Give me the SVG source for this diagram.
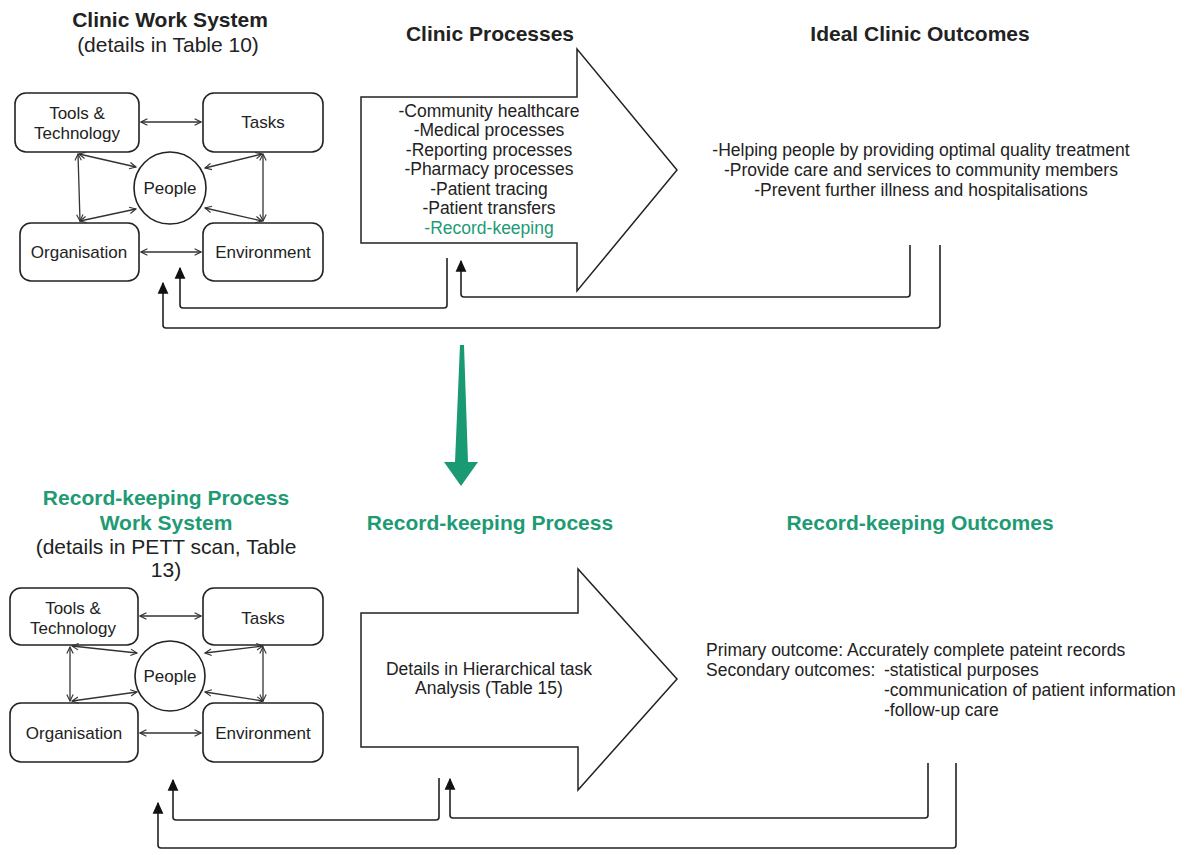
<svg xmlns="http://www.w3.org/2000/svg" width="1185" height="855" viewBox="0 0 1185 855">
  <style>
    text { font-family: "Liberation Sans", Arial, sans-serif; fill: #222; }
    .title { font-size: 21px; font-weight: bold; text-anchor: middle; }
    .green { fill: #1e9a74; }
    .sub { font-size: 21px; text-anchor: middle; }
    .lbl { font-size: 17px; text-anchor: middle; }
    .item { font-size: 17.5px; text-anchor: middle; }
    .left { font-size: 17.5px; text-anchor: start; }
    .box { fill: #fff; stroke: #222; stroke-width: 1.6; }
    .big { fill: #fff; stroke: #222; stroke-width: 1.5; }
    .link { fill: none; stroke: #333; stroke-width: 1.3; marker-start: url(#open); marker-end: url(#open); }
    .fb { fill: none; stroke: #222; stroke-width: 1.6; stroke-linejoin: round; }
    .fba { marker-end: url(#solid); }
  </style>
  <defs>
    <marker id="open" viewBox="0 0 10 10" refX="9" refY="5" markerWidth="8" markerHeight="8" markerUnits="userSpaceOnUse" orient="auto-start-reverse">
      <path d="M1,1 L9,5 L1,9" fill="none" stroke="#333" stroke-width="1.4"/>
    </marker>
    <marker id="solid" viewBox="0 0 10 10" refX="9" refY="5" markerWidth="12" markerHeight="12" markerUnits="userSpaceOnUse" orient="auto">
      <path d="M0,0.5 L10,5 L0,9.5 Z" fill="#111"/>
    </marker>
  </defs>
  <rect width="1185" height="855" fill="#fff"/>

  <!-- upper level: clinic -->
  <g id="clinic-work-system-title">
    <text class="title" x="170" y="27">Clinic Work System</text>
    <text class="sub" x="168" y="52">(details in Table 10)</text>
  </g>
  <g id="top-tools">
    <rect class="box" x="15" y="93" width="124" height="59" rx="11"/>
    <text class="lbl" x="77" y="119">Tools &amp;</text>
    <text class="lbl" x="77" y="139">Technology</text>
  </g>
  <g id="top-tasks">
    <rect class="box" x="203" y="93" width="120" height="59" rx="11"/>
    <text class="lbl" x="263" y="128">Tasks</text>
  </g>
  <g id="top-people">
    <circle class="box" cx="170" cy="188" r="36"/>
    <text class="lbl" x="170" y="194">People</text>
  </g>
  <g id="top-organisation">
    <rect class="box" x="20" y="223" width="119" height="58" rx="11"/>
    <text class="lbl" x="79" y="258">Organisation</text>
  </g>
  <g id="top-environment">
    <rect class="box" x="203" y="223" width="120" height="58" rx="11"/>
    <text class="lbl" x="263" y="258">Environment</text>
  </g>

  <g id="clinic-processes">
    <text class="title" x="490" y="41">Clinic Processes</text>
    <path class="big" d="M361,97 H577 V49 L677,170 L577,291 V243 H361 Z"/>
    <text class="item" x="489" y="117">-Community healthcare</text>
    <text class="item" x="489" y="136">-Medical processes</text>
    <text class="item" x="489" y="156">-Reporting processes</text>
    <text class="item" x="489" y="175">-Pharmacy processes</text>
    <text class="item" x="489" y="195">-Patient tracing</text>
    <text class="item" x="489" y="214">-Patient transfers</text>
    <text class="item green" x="489" y="234">-Record-keeping</text>
  </g>

  <g id="ideal-clinic-outcomes">
    <text class="title" x="920" y="41">Ideal Clinic Outcomes</text>
    <text class="item" x="921" y="156">-Helping people by providing optimal quality treatment</text>
    <text class="item" x="921" y="176">-Provide care and services to community members</text>
    <text class="item" x="921" y="196">-Prevent further illness and hospitalisations</text>
  </g>

  <!-- lower level: record-keeping -->
  <g id="record-keeping-work-system-title">
    <text class="title green" x="166" y="505">Record-keeping Process</text>
    <text class="title green" x="166" y="530">Work System</text>
    <text class="sub" x="166" y="554">(details in PETT scan, Table</text>
    <text class="sub" x="166" y="577">13)</text>
  </g>
  <g id="bottom-tools">
    <rect class="box" x="10" y="588" width="128" height="57" rx="11"/>
    <text class="lbl" x="73" y="614">Tools &amp;</text>
    <text class="lbl" x="73" y="634">Technology</text>
  </g>
  <g id="bottom-tasks">
    <rect class="box" x="203" y="588" width="120" height="57" rx="11"/>
    <text class="lbl" x="263" y="624">Tasks</text>
  </g>
  <g id="bottom-people">
    <circle class="box" cx="170" cy="676" r="35"/>
    <text class="lbl" x="170" y="682">People</text>
  </g>
  <g id="bottom-organisation">
    <rect class="box" x="10" y="703" width="128" height="59" rx="11"/>
    <text class="lbl" x="74" y="739">Organisation</text>
  </g>
  <g id="bottom-environment">
    <rect class="box" x="203" y="703" width="120" height="59" rx="11"/>
    <text class="lbl" x="263" y="739">Environment</text>
  </g>

  <g id="record-keeping-process">
    <text class="title green" x="490" y="530">Record-keeping Process</text>
    <path class="big" d="M361,613 H578 V569 L677,679 L578,790 V747 H361 Z"/>
    <text class="item" x="489" y="675">Details in Hierarchical task</text>
    <text class="item" x="489" y="694">Analysis (Table 15)</text>
  </g>

  <g id="record-keeping-outcomes">
    <text class="title green" x="920" y="530">Record-keeping Outcomes</text>
    <text class="left" x="706" y="656">Primary outcome: Accurately complete pateint records</text>
    <text class="left" x="706" y="676">Secondary outcomes:</text>
    <text class="left" x="884" y="676">-statistical purposes</text>
    <text class="left" x="884" y="696">-communication of patient information</text>
    <text class="left" x="884" y="716">-follow-up care</text>
  </g>

  <!-- connectors -->
  <g id="connectors">
    <!-- work system interactions, upper -->
    <line class="link" x1="141" y1="122" x2="201" y2="122"/>
    <line class="link" x1="141" y1="252" x2="201" y2="252"/>
    <line class="link" x1="78" y1="154" x2="80" y2="221"/>
    <line class="link" x1="263" y1="154" x2="263" y2="221"/>
    <line class="link" x1="79" y1="154" x2="136" y2="167"/>
    <line class="link" x1="80" y1="221" x2="136" y2="209"/>
    <line class="link" x1="262" y1="154" x2="205" y2="168"/>
    <line class="link" x1="262" y1="221" x2="205" y2="208"/>

    <!-- work system interactions, lower -->
    <line class="link" x1="140" y1="616" x2="201" y2="616"/>
    <line class="link" x1="140" y1="733" x2="201" y2="733"/>
    <line class="link" x1="70" y1="647" x2="70" y2="701"/>
    <line class="link" x1="263" y1="647" x2="263" y2="701"/>
    <line class="link" x1="72" y1="646" x2="137" y2="653"/>
    <line class="link" x1="72" y1="701" x2="137" y2="692"/>
    <line class="link" x1="263" y1="646" x2="205" y2="653"/>
    <line class="link" x1="263" y1="701" x2="205" y2="692"/>

    <!-- feedback loops, upper -->
    <path class="fb fba" d="M447,258 V305 Q447,308 444,308 H183 Q180,308 180,305 V268"/>
    <path class="fb fba" d="M910,245 V294 Q910,297 907,297 H464 Q461,297 461,294 V261"/>
    <path class="fb fba" d="M940,245 V325 Q940,328 937,328 H166 Q163,328 163,325 V283"/>

    <!-- feedback loops, lower -->
    <path class="fb fba" d="M439,778 V817 Q439,820 436,820 H176 Q173,820 173,817 V780"/>
    <path class="fb fba" d="M928,763 V815 Q928,818 925,818 H453 Q450,818 450,815 V779"/>
    <path class="fb fba" d="M956,763 V845 Q956,848 953,848 H161 Q158,848 158,845 V803"/>

    <!-- refinement from clinic level to record-keeping level -->
    <path d="M460,345 L464,345 L468,462 L478,462 L461,486 L444,462 L455,462 Z" fill="#1a9a72"/>
  </g>
</svg>
